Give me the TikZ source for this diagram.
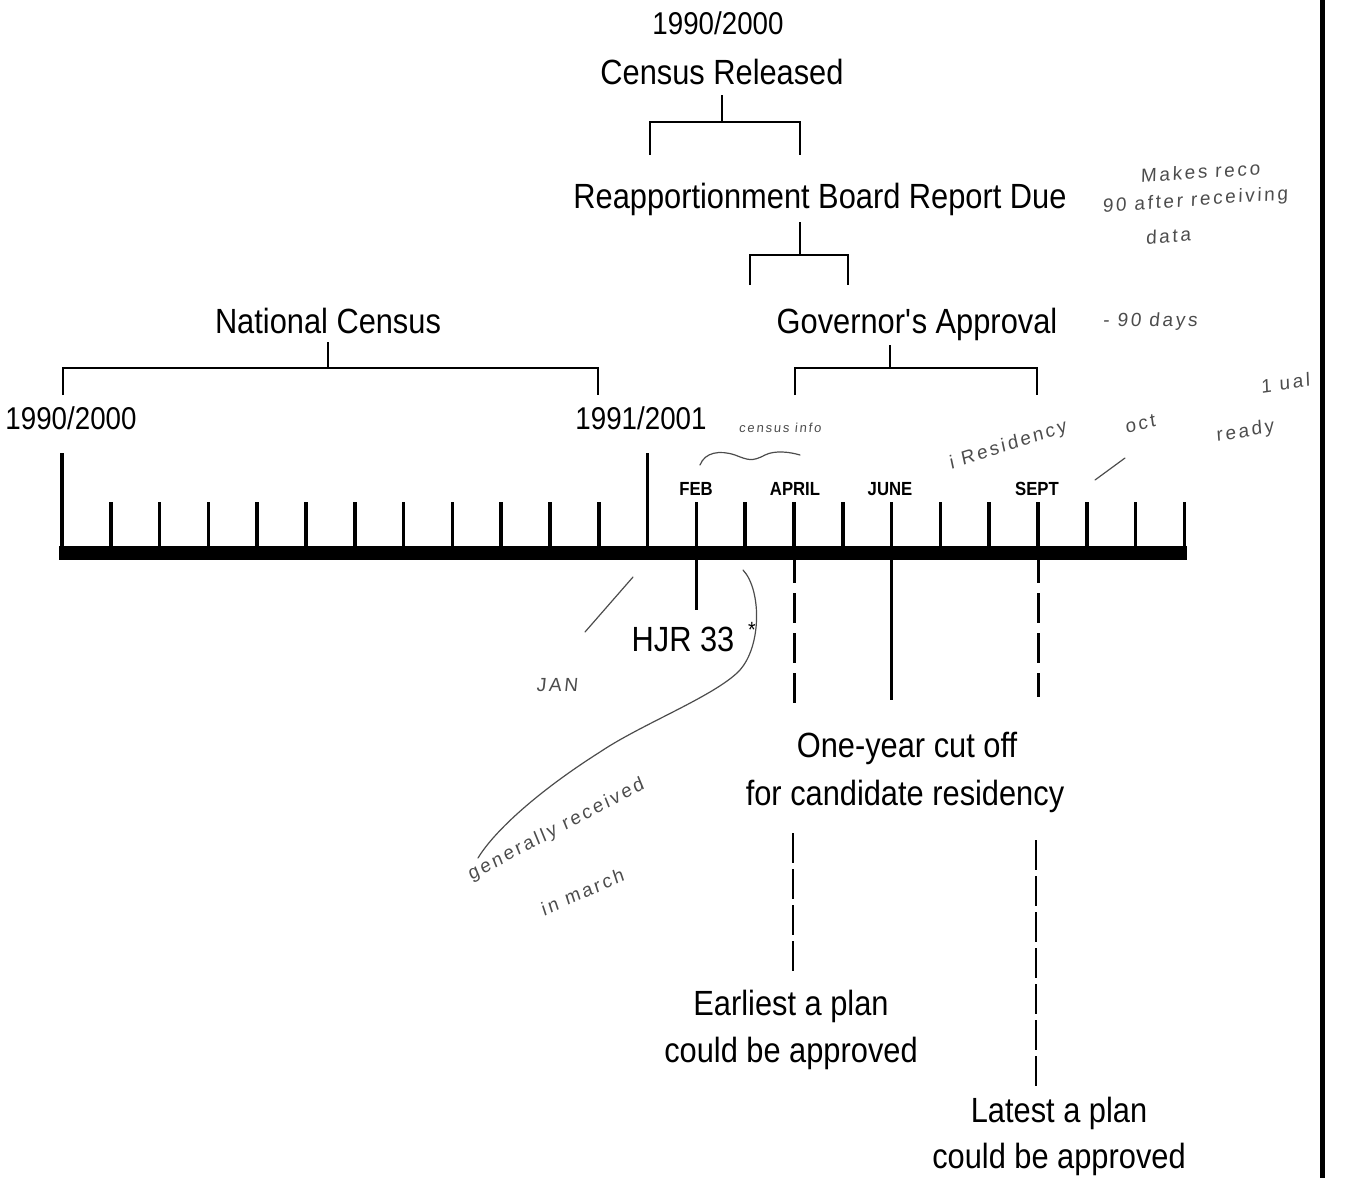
\documentclass[tikz,border=0pt]{standalone}
\usepackage{fontspec}
\setmainfont{Liberation Sans}[FakeStretch=0.88]
\newfontfamily\handfont{Liberation Sans}[LetterSpace=14,FakeSlant=0.1]
\tikzset{
  lbl/.style = {inner sep=0, anchor=base, font=\fontsize{35}{40}\selectfont},
  yr/.style = {inner sep=0, anchor=base, font=\fontsize{31.5}{34}\selectfont},
  mon/.style = {inner sep=0, anchor=base, font=\fontsize{19}{22}\selectfont\bfseries},
  hand/.style = {inner sep=0, text=black!70, font=\handfont\fontsize{19}{21}\selectfont},
  brk/.style = {line width=1.8pt},
  tck/.style = {line width=3.6pt},
  tbar/.style = {line width=14pt},
  dsh/.style = {line width=3pt, dash pattern=on 30pt off 10pt},
  dshlong/.style = {line width=2.4pt, dash pattern=on 30pt off 6pt},
  scrib/.style = {line width=1.2pt, black!70, line cap=round}
}
% bracket: stem x, stem top, bar y, left x, right x, leg bottom
\newcommand{\bracket}[6]{%
  \draw[brk] (#1,#2) -- (#1,#3);
  \draw[brk] (#4,#6) -- (#4,#3) -- (#5,#3) -- (#5,#6);
}

\begin{document}
\begin{tikzpicture}[x=1pt,y=-1pt]
  \useasboundingbox (0,0) rectangle (1354,1178);
  % headings and brackets
  \node[yr]  (yrtop)  at (718,34)  {1990/2000};
  \node[lbl] (census) at (722,84)  {Census Released};
  \bracket{722}{95}{122}{650}{800}{155}
  \node[lbl] (board)  at (820,208) {Reapportionment Board Report Due};
  \bracket{800}{222}{255}{750}{848}{285}
  \node[lbl] (natcen) at (328,333) {National Census};
  \bracket{328}{342}{368}{63}{598}{395}
  \node[lbl] (gov)    at (917,333) {Governor\textquotesingle s Approval};
  \bracket{890}{345}{368}{795}{1037}{395}
  \node[yr] (yrA) at (71,429)  {1990/2000};
  \node[yr] (yrB) at (641,429) {1991/2001};
  % timeline
  \foreach \i in {0,...,23}
    \coordinate (t\i) at (62+48.8*\i,553);
  \draw[tbar] (59,553) -- (1187,553);
  \foreach \i in {1,...,11,13,14,...,23}
    \draw[tck] (t\i) ++(0,-51) -- (t\i);
  \draw[tck] (t0) ++(0,-100) -- (t0);
  \draw[tck] (t12) ++(0,-100) -- (t12);
  \node[mon] (feb)   at (696,495)  {FEB};
  \node[mon] (april) at (795,495)  {APRIL};
  \node[mon] (june)  at (890,495)  {JUNE};
  \node[mon] (sept)  at (1037,495) {SEPT};
  % below the bar
  \draw[tck] (t13) -- ++(0,57) coordinate (febend);
  \node[lbl] (hjr) at (683,651) {HJR 33};
  \node[inner sep=0, font=\fontsize{22}{24}\selectfont] (star) at (752,630) {*};
  \draw[dsh] (t15) -- ++(0,150) coordinate (aprend);
  \draw[tck] (t17) -- ++(0,147) coordinate (junend);
  \draw[dsh] (t20) -- ++(0,144) coordinate (sepend);
  \node[lbl] (cutA) at (907,757) {One-year cut off};
  \node[lbl] (cutB) at (905,805) {for candidate residency};
  \coordinate (eA) at (793,833);
  \coordinate (eB) at (793,975);
  \coordinate (lA) at (1036,840);
  \coordinate (lB) at (1036,1087);
  \draw[dshlong] (eA) -- (eB);
  \draw[dshlong] (lA) -- (lB);
  \node[lbl] (earlyA) at (791,1015) {Earliest a plan};
  \node[lbl] (earlyB) at (791,1062) {could be approved};
  \node[lbl] (lateA)  at (1059,1122) {Latest a plan};
  \node[lbl] (lateB)  at (1059,1168) {could be approved};
  % right margin rule
  \draw[line width=5pt] (1322,0) -- (1322,1178);
  % handwritten notes
  \node[hand, rotate=4]  (nA) at (1200,172) {Makes reco};
  \node[hand, rotate=4]  (nB) at (1195,201) {90 after receiving};
  \node[hand, rotate=4]  (nC) at (1168,236) {data};
  \node[hand]            (nD) at (1150,322) {- 90 days};
  \node[hand, font=\handfont\fontsize{13}{14}\selectfont] (nE) at (780,428) {census info};
  \draw[scrib] (700,465) .. controls (705,452) and (720,450) .. (735,455)
    .. controls (748,460) and (752,462) .. (765,455)
    .. controls (775,450) and (790,452) .. (800,455);
  \node[hand, rotate=18] (nF) at (1008,446) {i Residency};
  \node[hand, rotate=14] (nG) at (1140,424) {oct};
  \node[hand, rotate=8]  (nH) at (1285,383) {1 ual};
  \node[hand, rotate=10] (nI) at (1245,432) {ready};
  \draw[scrib] (1095,480) -- (1125,458);
  \node[hand] (nJ) at (557,685) {JAN};
  \draw[scrib] (633,577) -- (585,632);
  \draw[scrib] (743,570) .. controls (762,590) and (762,650) .. (737,673)
    .. controls (710,698) and (640,725) .. (600,752)
    .. controls (540,790) and (495,830) .. (478,858);
  \node[hand, rotate=28] (nK) at (556,830) {generally received};
  \node[hand, rotate=24] (nL) at (582,892) {in march};
\end{tikzpicture}
\end{document}
